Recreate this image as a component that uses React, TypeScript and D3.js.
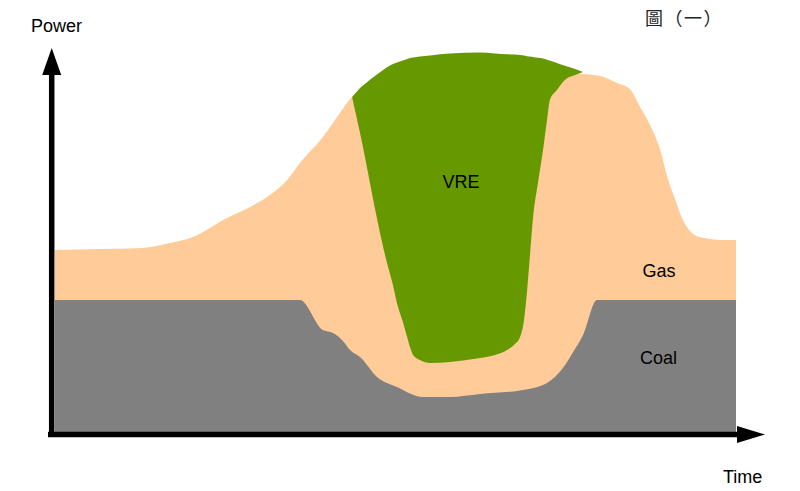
import React, { useEffect, useRef } from 'react';
import * as d3 from 'd3';

// time in hours, power in % of the drawn range
const gasTime = [0, 1.59, 3.1, 4.05, 4.86, 6.06, 6.87, 7.47, 8.18, 8.63, 9.44, 10.04, 10.47, 11.28, 12.16, 13.57, 14.98, 16.39, 17.8, 18.61, 19.21, 19.81, 20.26, 20.62, 20.97, 21.33, 21.58, 21.86, 22.13, 22.45, 22.71, 23.54, 24];
const gasTop = [45.75, 46, 46.25, 47.5, 49, 53.75, 56.5, 59, 63.25, 67.5, 74, 80, 84, 86.25, 88.25, 92, 92.75, 92.5, 90.25, 89.75, 89.25, 87.5, 86, 81.5, 77, 70.75, 64, 58.25, 53.25, 50, 49, 48.25, 48.25];

const coalTime = [0, 8.63, 9.44, 9.8, 10.15, 10.4, 10.75, 11.35, 12.05, 12.97, 13.92, 14.98, 16.49, 17.34, 17.9, 18.26, 18.61, 19.1, 24];
const coalTop = [33.25, 33.25, 25.75, 25, 23, 20.75, 19, 14, 11.5, 9, 9, 9.75, 10.75, 12.5, 16.25, 20.25, 24.5, 33.25, 33.25];

const vreTime = [10.47, 10.61, 10.75, 10.93, 11.1, 11.38, 11.7, 11.91, 12.05, 12.26, 12.41, 12.51, 12.62, 12.86, 13.22, 13.92, 14.98, 15.51, 15.93, 16.21, 16.39, 16.53, 16.63, 16.74, 16.85, 17.02, 17.2, 17.34, 17.44, 17.69, 17.97, 18.33, 18.61];
const vreUpper = [84, 85.1, 86.25, 87.3, 88.3, 89.8, 91.45, 92.25, 92.6, 93.1, 93.5, 93.75, 93.85, 94.1, 94.4, 94.85, 95.1, 94.9, 94.7, 94.6, 94.5, 94.35, 94.2, 94.1, 94, 93.8, 93.6, 93.3, 93.1, 92.5, 91.8, 91, 90.25];
const vreLower = [84, 79.5, 75, 68.75, 62.5, 52.5, 42.5, 37, 32.5, 27.75, 24, 21.5, 19.5, 18.25, 17.5, 17.75, 18.75, 19.5, 20.75, 22.25, 24, 28.25, 35, 44.5, 54, 62.5, 70.75, 78.25, 83.25, 85.75, 88.25, 89.5, 90.25];

const labels = [
  { text: 'VRE', t: 14.31, p: 61.25 },
  { text: 'Gas', t: 21.29, p: 39 },
  { text: 'Coal', t: 21.27, p: 17.25 },
];

const W = 800;
const H = 491;
const FONT = '"Liberation Sans", Arial, sans-serif';

const App: React.FC = () => {
  const svgRef = useRef<SVGSVGElement>(null);

  useEffect(() => {
    if (!svgRef.current) return;
    const svg = d3.select(svgRef.current);
    svg.selectAll('*').remove();

    const x = d3.scaleLinear().domain([0, 24]).range([55, 736]);
    const y = d3.scaleLinear().domain([0, 100]).range([433, 33]);

    const gasData = gasTime.map((t, i) => ({ t, v: gasTop[i] }));
    const coalData = coalTime.map((t, i) => ({ t, v: coalTop[i] }));
    const vreData = vreTime.map((t, i) => ({ t, hi: vreUpper[i], lo: vreLower[i] }));

    const baseArea = d3.area<{ t: number; v: number }>()
      .x(d => x(d.t))
      .y0(y(0))
      .y1(d => y(d.v))
      .curve(d3.curveMonotoneX);

    // gas envelope first, coal over it, VRE on top
    svg.append('path')
      .datum(gasData)
      .attr('fill', '#FFCC99')
      .attr('d', baseArea as any);

    svg.append('path')
      .datum(coalData)
      .attr('fill', '#808080')
      .attr('d', baseArea as any);

    const vreArea = d3.area<{ t: number; hi: number; lo: number }>()
      .x(d => x(d.t))
      .y0(d => y(d.lo))
      .y1(d => y(d.hi))
      .curve(d3.curveMonotoneX);

    svg.append('path')
      .datum(vreData)
      .attr('fill', '#669900')
      .attr('d', vreArea as any);

    // axes with arrow heads
    const ax = 51.7;
    const ay = 434.5;
    svg.append('line')
      .attr('x1', ax).attr('y1', 437)
      .attr('x2', ax).attr('y2', 70)
      .attr('stroke', '#000').attr('stroke-width', 5.5);
    svg.append('path')
      .attr('d', `M${ax},48 L${ax - 9.5},75 L${ax + 9.5},75 Z`)
      .attr('fill', '#000');

    svg.append('line')
      .attr('x1', 48).attr('y1', ay)
      .attr('x2', 742).attr('y2', ay)
      .attr('stroke', '#000').attr('stroke-width', 5.5);
    svg.append('path')
      .attr('d', `M765,${ay} L737,${ay - 8.5} L737,${ay + 8.5} Z`)
      .attr('fill', '#000');

    svg.append('g')
      .selectAll('text')
      .data(labels)
      .enter().append('text')
      .attr('x', d => x(d.t))
      .attr('y', d => y(d.p))
      .attr('text-anchor', 'middle')
      .style('font-family', FONT)
      .style('font-size', '18px')
      .style('fill', '#000')
      .text(d => d.text);

    svg.append('text')
      .attr('x', 31).attr('y', 32)
      .style('font-family', FONT)
      .style('font-size', '18px')
      .text('Power');

    svg.append('text')
      .attr('x', 723).attr('y', 483)
      .style('font-family', FONT)
      .style('font-size', '18px')
      .text('Time');

    svg.append('text')
      .attr('x', 645).attr('y', 25)
      .style('font-family', '"Noto Sans CJK TC", sans-serif')
      .style('font-size', '18px')
      .style('letter-spacing', '1.5px')
      .style('fill', '#222')
      .text('圖（一）');
  }, []);

  return (
    <svg
      ref={svgRef}
      width={W}
      height={H}
      style={{ position: 'absolute', left: 0, top: 0, background: '#fff' }}
    />
  );
};

export default App;
